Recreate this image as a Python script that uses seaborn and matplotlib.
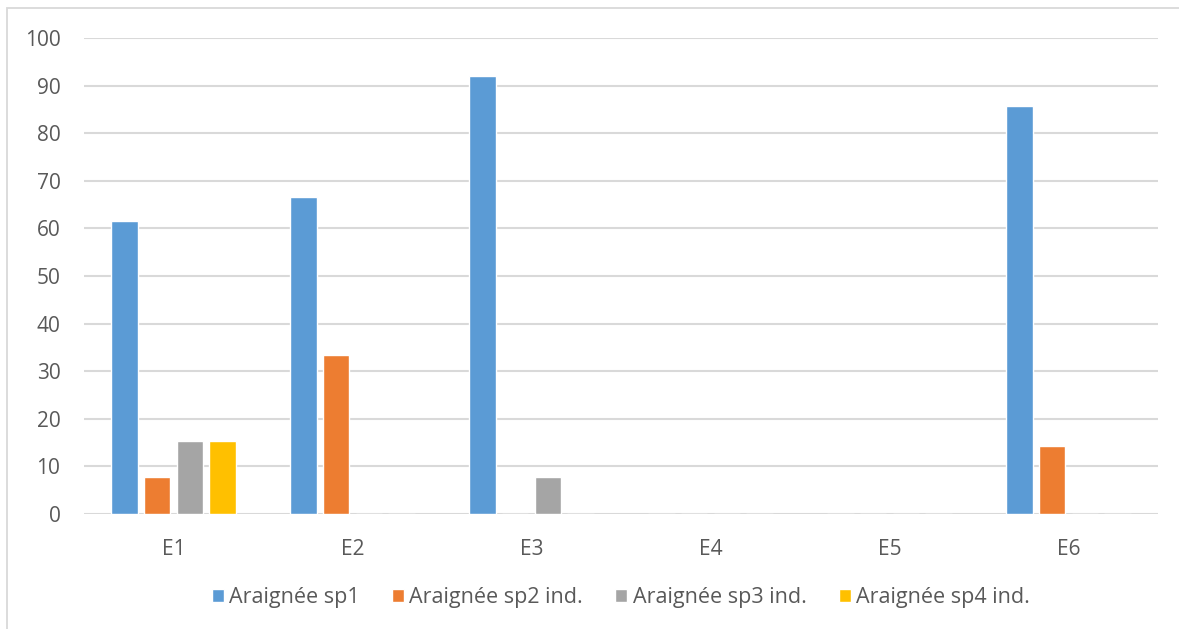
import matplotlib
matplotlib.use("Agg")
import matplotlib.pyplot as plt
from matplotlib.patches import Rectangle
import pandas as pd
import seaborn as sns

stations = ["E1", "E2", "E3", "E4", "E5", "E6"]
series_names = ["Araignée sp1", "Araignée sp2 ind.", "Araignée sp3 ind.", "Araignée sp4 ind."]
sp1 = [61.5, 66.7, 92.0, 0, 0, 85.7]
sp2 = [7.7, 33.3, 0, 0, 0, 14.3]
sp3 = [15.4, 0, 7.7, 0, 0, 0]
sp4 = [15.4, 0, 0, 0, 0, 0]
colors = ["#5B9BD5", "#ED7D31", "#A5A5A5", "#FFC000"]
yticks = [0, 10, 20, 30, 40, 50, 60, 70, 80, 90, 100]

rows = []
for name, vals in zip(series_names, [sp1, sp2, sp3, sp4]):
    for st, v in zip(stations, vals):
        rows.append({"Station": st, "Espèce": name, "Valeur": v})
df = pd.DataFrame(rows)

sns.set_style("white")
plt.rcParams["font.family"] = ["Open Sans", "DejaVu Sans"]

fig = plt.figure(figsize=(11.79, 6.29), dpi=100)
ax = fig.add_axes([84 / 1179, 1 - 514 / 629, (1158 - 84) / 1179, (514 - 38) / 629])

sns.barplot(data=df, x="Station", y="Valeur", hue="Espèce", order=stations,
            hue_order=series_names, palette=colors, width=0.73, gap=0.2,
            saturation=1, ax=ax, legend=True)

ax.set_ylim(0, 100)
ax.set_xlim(-0.5, len(stations) - 0.5)
ax.set_yticks(yticks)
ax.set_yticklabels([str(t) for t in yticks])
ax.grid(axis="y", color="#D9D9D9", linewidth=1.5)
ax.set_axisbelow(True)
for s in ax.spines.values():
    s.set_visible(False)
ax.tick_params(axis="both", length=0, labelsize=15, colors="#595959")
ax.tick_params(axis="y", pad=17)
ax.tick_params(axis="x", pad=18)
ax.set_xlabel("")
ax.set_ylabel("")

handles, labels = ax.get_legend_handles_labels()
ax.legend(handles, labels, loc="center", bbox_to_anchor=(0.5, (1 - 598 / 629 - (1 - 514 / 629)) / ((514 - 38) / 629)),
          ncol=4, frameon=False, fontsize=15.5, labelcolor="#595959",
          handlelength=0.55, handleheight=0.55, handletextpad=0.25, columnspacing=1.5)

fig.patches.append(Rectangle((7 / 1179, -0.1), 1.2, 1.1 - 8 / 629, transform=fig.transFigure,
                             fill=False, edgecolor="#D9D9D9", linewidth=1.3))

fig.savefig("out.png", dpi=100, facecolor="white")
